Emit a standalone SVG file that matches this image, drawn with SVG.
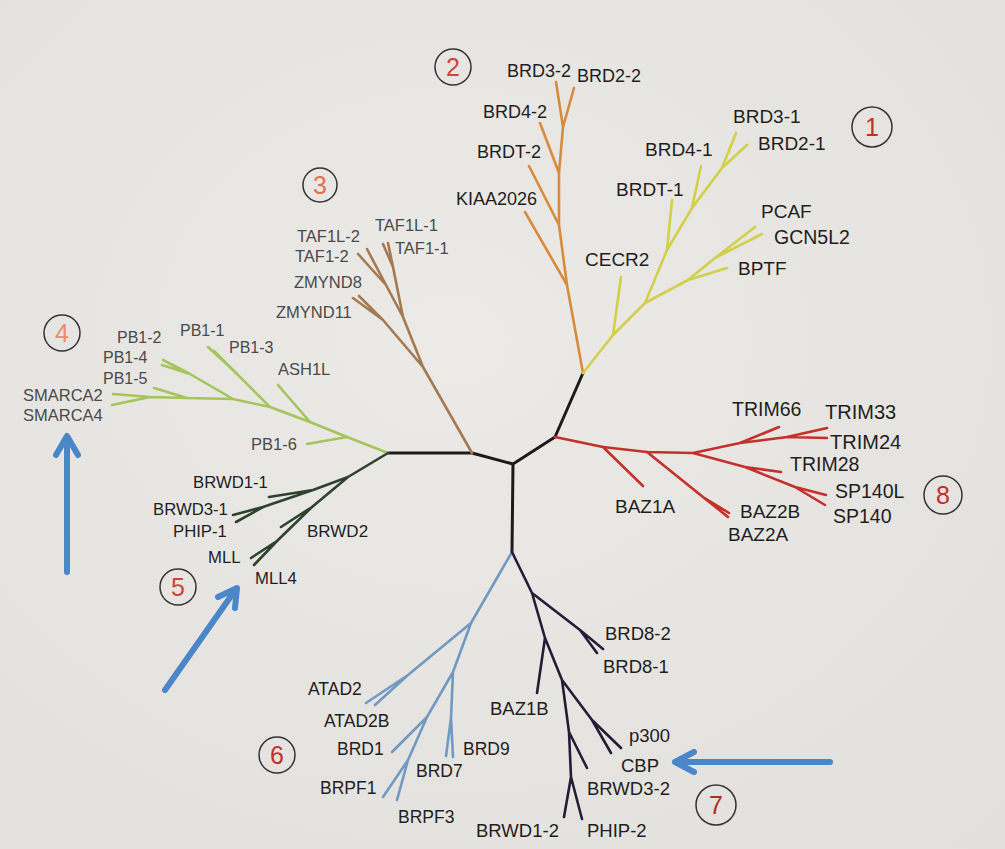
<svg xmlns="http://www.w3.org/2000/svg" width="1005" height="849" viewBox="0 0 1005 849">
<defs>
<radialGradient id="bg" cx="0.45" cy="0.4" r="0.8">
<stop offset="0" stop-color="#eceae6"/>
<stop offset="1" stop-color="#e2e0dc"/>
</radialGradient>
</defs>
<style>
.b{fill:none;stroke-width:2.6;stroke-linecap:round;stroke-linejoin:round}
.k{stroke:#1b1b1b;stroke-width:3}
.c1{stroke:#d2d04a}
.c2{stroke:#d98b3c}
.c3{stroke:#a57a52}
.c4{stroke:#a3c55c}
.c5{stroke:#2e422e}
.c6{stroke:#7299c2}
.c7{stroke:#241d36}
.c8{stroke:#c4302b}
text{font-family:"Liberation Sans",Arial,sans-serif;fill:#1e1e1e}
.g{fill:#4a4a4a}
.n{font-size:25px;text-anchor:middle}
.ci{fill:none;stroke:#333;stroke-width:1.5}
.ar{fill:none;stroke:#4a86c8;stroke-width:6;stroke-linecap:round;stroke-linejoin:round}
</style>
<rect width="1005" height="849" fill="url(#bg)"/>
<g id="connectors">
<path class="b k" d="M583,373 L555,437 L513,464 L472,453 L388,453 M513,464 L512,552"/>
<path class="b c2" d="M583,373 L567,285 L559,225 L559,173 L563,127 L556,82 M563,127 L574,88 M559,173 L540,123 M559,225 L529,166 M567,285 L525,212"/>
<path class="b c1" d="M583,373 L613,335 L645,303 L667,250 L692,208 L722,168 L736,133 M722,168 L747,145 M692,208 L701,166 M667,250 L672,200 M613,335 L621,277 M645,303 L688,280 L715,258 L755,227 M715,258 L762,234 M688,280 L727,268"/>
<path class="b c3" d="M472,453 L423,367 L403,317 L393,267 L383,244 M393,267 L388,243 M403,317 L386,285 L358,254 M386,285 L367,249 M423,367 L383,320 L353,298 M383,320 L359,296"/>
<path class="b c4" d="M388,453 L347,437 L310,422 L270,407 L233,399 L187,398 L150,397 L113,394 M150,397 L112,405 M187,398 L154,388 M233,399 L190,374 L163,360 M190,374 L162,365 M270,407 L233,370 L208,347 M233,370 L214,351 M310,422 L278,385 M347,437 L307,444"/>
<path class="b c5" d="M388,453 L348,477 L313,490 L269,497 M313,490 L263,507 L233,515 M263,507 L236,522 M348,477 L312,507 L281,527 M312,507 L277,541 L251,558 M277,541 L254,565"/>
<path class="b c8" d="M555,437 L603,447 L647,452 L693,453 L740,443 L787,437 L827,428 M787,437 L827,438 M740,443 L779,427 M693,453 L745,467 L795,487 L826,495 M795,487 L825,505 M745,467 L781,472 M647,452 L703,497 L729,513 M703,497 L728,517 M603,447 L643,486"/>
<path class="b c6" d="M512,552 L471,623 L453,672 L427,717 L408,760 L383,797 M408,760 L397,800 M427,717 L392,752 M453,672 L451,718 L446,756 M451,718 L453,757 M471,623 L408,675 L366,703 M408,675 L375,705"/>
<path class="b c7" d="M512,552 L532,593 L545,638 L562,680 L569,732 L571,777 L564,817 M571,777 L582,819 M569,732 L587,768 M562,680 L592,720 L621,748 M592,720 L611,753 M545,638 L537,693 M532,593 L580,630 L603,649 M580,630 L597,653"/>
</g>
<g id="clade-labels">
<g id="num1"><circle class="ci" cx="872" cy="127" r="20"/><text class="n" x="872" y="136" style="fill:#c0302a">1</text></g>
<g id="num2"><circle class="ci" cx="453" cy="67" r="18"/><text class="n" x="453" y="76" style="fill:#d0443a">2</text></g>
<g id="num3"><circle class="ci" cx="320" cy="185" r="17"/><text class="n" x="320" y="194" style="fill:#e2704e">3</text></g>
<g id="num4"><circle class="ci" cx="62" cy="333" r="18"/><text class="n" x="62" y="342" style="fill:#ee8a6c">4</text></g>
<g id="num5"><circle class="ci" cx="178" cy="587" r="18"/><text class="n" x="178" y="596" style="fill:#c8453a">5</text></g>
<g id="num6"><circle class="ci" cx="277" cy="755" r="18"/><text class="n" x="277" y="764" style="fill:#c0302a">6</text></g>
<g id="num7"><circle class="ci" cx="716" cy="805" r="20"/><text class="n" x="716" y="814" style="fill:#b52a25">7</text></g>
<g id="num8"><circle class="ci" cx="943" cy="495" r="19"/><text class="n" x="943" y="504" style="fill:#c0302a">8</text></g>
</g>
<g id="leaves" font-size="18">
<g id="n-BRD3-1"><text x="733" y="123" font-size="19">BRD3-1</text></g>
<g id="n-BRD2-1"><text x="758" y="150" font-size="19">BRD2-1</text></g>
<g id="n-BRD4-1"><text x="645" y="156" font-size="19">BRD4-1</text></g>
<g id="n-BRDT-1"><text x="616" y="196" font-size="19">BRDT-1</text></g>
<g id="n-PCAF"><text x="761" y="218" font-size="19">PCAF</text></g>
<g id="n-GCN5L2"><text x="774" y="244" font-size="19.5">GCN5L2</text></g>
<g id="n-BPTF"><text x="738" y="275" font-size="19">BPTF</text></g>
<g id="n-CECR2"><text x="585" y="266" font-size="19">CECR2</text></g>
<g id="n-BRD3-2"><text x="507" y="77">BRD3-2</text></g>
<g id="n-BRD2-2"><text x="577" y="82">BRD2-2</text></g>
<g id="n-BRD4-2"><text x="483" y="118">BRD4-2</text></g>
<g id="n-BRDT-2"><text x="477" y="158">BRDT-2</text></g>
<g id="n-KIAA2026"><text x="456" y="205">KIAA2026</text></g>
<g id="n-TAF1L-1"><text class="g" x="375" y="231" font-size="16.5">TAF1L-1</text></g>
<g id="n-TAF1-1"><text class="g" x="395" y="254" font-size="16.5">TAF1-1</text></g>
<g id="n-TAF1L-2"><text class="g" x="297" y="242" font-size="16.5">TAF1L-2</text></g>
<g id="n-TAF1-2"><text class="g" x="295" y="262" font-size="16.5">TAF1-2</text></g>
<g id="n-ZMYND8"><text class="g" x="294" y="288" font-size="16.5">ZMYND8</text></g>
<g id="n-ZMYND11"><text class="g" x="276" y="318" font-size="16.5">ZMYND11</text></g>
<g id="n-PB1-2"><text class="g" x="117" y="343" font-size="16">PB1-2</text></g>
<g id="n-PB1-1"><text class="g" x="180" y="336" font-size="16">PB1-1</text></g>
<g id="n-PB1-3"><text class="g" x="229" y="353" font-size="16">PB1-3</text></g>
<g id="n-PB1-4"><text class="g" x="103" y="363" font-size="16">PB1-4</text></g>
<g id="n-PB1-5"><text class="g" x="103" y="384" font-size="16">PB1-5</text></g>
<g id="n-SMARCA2"><text class="g" x="23" y="401" font-size="16.5">SMARCA2</text></g>
<g id="n-SMARCA4"><text class="g" x="23" y="421" font-size="16.5">SMARCA4</text></g>
<g id="n-ASH1L"><text class="g" x="278" y="375" font-size="16.5">ASH1L</text></g>
<g id="n-PB1-6"><text class="g" x="251" y="450" font-size="16.5">PB1-6</text></g>
<g id="n-BRWD1-1"><text x="193" y="488" font-size="16.7">BRWD1-1</text></g>
<g id="n-BRWD3-1"><text x="153" y="515" font-size="16.7">BRWD3-1</text></g>
<g id="n-PHIP-1"><text x="173" y="537" font-size="16.7">PHIP-1</text></g>
<g id="n-MLL"><text x="208" y="563" font-size="16.7">MLL</text></g>
<g id="n-MLL4"><text x="255" y="584" font-size="16.7">MLL4</text></g>
<g id="n-BRWD2"><text x="307" y="537" font-size="17">BRWD2</text></g>
<g id="n-TRIM66"><text x="732" y="416" font-size="19.5">TRIM66</text></g>
<g id="n-TRIM33"><text x="825" y="419" font-size="20">TRIM33</text></g>
<g id="n-TRIM24"><text x="830" y="449" font-size="20">TRIM24</text></g>
<g id="n-TRIM28"><text x="790" y="471" font-size="19.5">TRIM28</text></g>
<g id="n-SP140L"><text x="835" y="498" font-size="19.5">SP140L</text></g>
<g id="n-SP140"><text x="833" y="523" font-size="19.5">SP140</text></g>
<g id="n-BAZ1A"><text x="615" y="513" font-size="19">BAZ1A</text></g>
<g id="n-BAZ2B"><text x="740" y="518" font-size="19">BAZ2B</text></g>
<g id="n-BAZ2A"><text x="728" y="541" font-size="19">BAZ2A</text></g>
<g id="n-ATAD2"><text x="308" y="695" font-size="17.5">ATAD2</text></g>
<g id="n-ATAD2B"><text x="324" y="727" font-size="17.5">ATAD2B</text></g>
<g id="n-BRD1"><text x="337" y="755" font-size="17.5">BRD1</text></g>
<g id="n-BRD9"><text x="463" y="755" font-size="17.5">BRD9</text></g>
<g id="n-BRD7"><text x="416" y="777" font-size="17.5">BRD7</text></g>
<g id="n-BRPF1"><text x="320" y="794" font-size="17.5">BRPF1</text></g>
<g id="n-BRPF3"><text x="398" y="823" font-size="17.5">BRPF3</text></g>
<g id="n-BRD8-2"><text x="605" y="640" font-size="18.5">BRD8-2</text></g>
<g id="n-BRD8-1"><text x="603" y="673" font-size="18.5">BRD8-1</text></g>
<g id="n-BAZ1B"><text x="490" y="715" font-size="18.5">BAZ1B</text></g>
<g id="n-p300"><text x="629" y="742" font-size="18.5">p300</text></g>
<g id="n-CBP"><text x="621" y="772" font-size="18.5">CBP</text></g>
<g id="n-BRWD3-2"><text x="587" y="795" font-size="18.5">BRWD3-2</text></g>
<g id="n-BRWD1-2"><text x="476" y="837" font-size="18.5">BRWD1-2</text></g>
<g id="n-PHIP-2"><text x="587" y="837" font-size="18.5">PHIP-2</text></g>
</g>
<g id="arrows">
<path class="ar" d="M67,572 L67,437 M56,455 L67,436 L78,455"/>
<path class="ar" d="M165,690 L236,589 M218,597 L237,588 L235,608"/>
<path class="ar" d="M830,762 L676,762 M694,752 L675,762 L694,772"/>
</g>
</svg>
